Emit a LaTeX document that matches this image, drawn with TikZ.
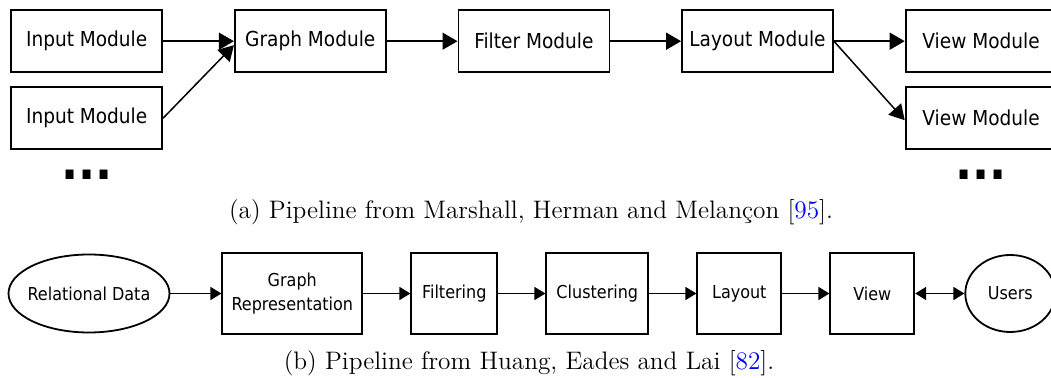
\documentclass[tikz,border=0pt]{standalone}
\usepackage{fontspec}
\newfontfamily\boxfont{DejaVu Sans Condensed}
\usetikzlibrary{positioning,shapes.geometric,arrows.meta}

\begin{document}
\begin{tikzpicture}[x=0.5pt, y=-0.5pt, >={Triangle[length=7.5pt,width=8.5pt]}, node distance=35.4pt]
    % Styles
    \tikzstyle{module} = [rectangle, draw, line width=0.9pt, minimum width=75.5pt, minimum height=31pt, inner sep=0pt, font=\boxfont\fontsize{10.3}{12}\selectfont]
    \tikzstyle{stage} = [rectangle, draw, line width=0.9pt, minimum height=40.8pt, inner sep=0pt, align=center, font=\boxfont\fontsize{8.9}{12}\selectfont]
    \tikzstyle{source} = [ellipse, draw, line width=0.9pt, inner xsep=-4pt, inner ysep=0pt, font=\boxfont\fontsize{8.9}{11}\selectfont]
    \tikzstyle{more} = [anchor=base, inner sep=0pt, font=\boxfont\bfseries\fontsize{25}{25}\selectfont]
    \tikzstyle{caption} = [font=\fontsize{12.65}{14}\selectfont]
    \tikzstyle{link} = [-{Triangle[length=5.5pt,width=6.5pt]}, line width=0.75pt]

    \useasboundingbox (0,0) rectangle (1051,378);

    % (a) Marshall, Herman and Melancon
    \node[module] (in1) at (86.7,41.2) {Input Module};
    \node[module] (in2) [below=6.6pt of in1] {Input Module};
    \node[module] (graph) [right=of in1] {Graph Module};
    \node[module] (filter) [right=of graph] {Filter Module};
    \node[module] (layout) [right=of filter] {Layout Module};
    \node[module] (view1) [right=of layout] {View Module};
    \node[module] (view2) [below=6.6pt of view1] {View Module};
    \node[more] (ldots) at ([yshift=-14.5pt]in2.south) {...};
    \node[more] (rdots) at ([yshift=-14.5pt]view2.south) {...};

    \draw[->, line width=0.75pt] (in1) -- (graph);
    \draw[->, line width=0.75pt] (in2.east) -- ([yshift=-2pt]graph.west);
    \draw[->, line width=0.75pt] (graph) -- (filter);
    \draw[->, line width=0.75pt] (filter) -- (layout);
    \draw[->, line width=0.75pt] (layout) -- (view1);
    \draw[->, line width=0.75pt] (layout.east) -- ([yshift=-1pt]view2.west);

    \node[caption] (capa) at (531,212) {(a) Pipeline from Marshall, Herman and Melançon [\textcolor{blue}{95}].};

    % (b) Huang, Eades and Lai
    \node[source, minimum width=80.5pt, minimum height=39pt] (data) at (89,293.5) {Relational Data};
    \node[stage, minimum width=70pt] (repr) [right=25.5pt of data] {Graph\\Representation};
    \node[stage, minimum width=43pt] (filt) [right=23.6pt of repr] {Filtering};
    \node[stage, minimum width=51pt] (clus) [right=23.6pt of filt] {Clustering};
    \node[stage, minimum width=42pt] (lay) [right=23.6pt of clus] {Layout};
    \node[stage, minimum width=42pt] (view) [right=23.6pt of lay] {View};
    \node[source, minimum width=45pt, minimum height=38.5pt] (users) [right=24.6pt of view] {Users};

    \draw[link] (data) -- (repr);
    \draw[link] (repr) -- (filt);
    \draw[link] (filt) -- (clus);
    \draw[link] (clus) -- (lay);
    \draw[link] (lay) -- (view);
    \draw[link, {Triangle[length=5.5pt,width=6.5pt]}-{Triangle[length=5.5pt,width=6.5pt]}] (view) -- (users);

    \node[caption] (capb) at (529,363) {(b) Pipeline from Huang, Eades and Lai [\textcolor{blue}{82}].};
\end{tikzpicture}
\end{document}
